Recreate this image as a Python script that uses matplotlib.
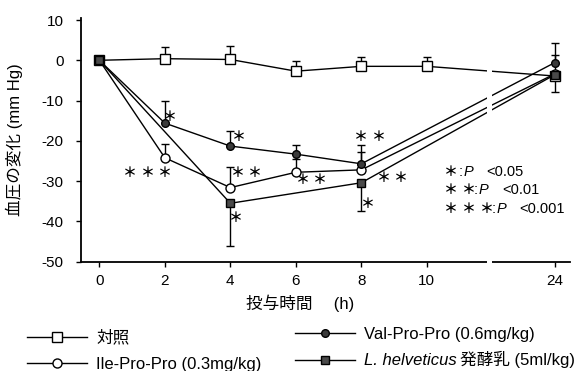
import matplotlib
matplotlib.use('Agg')
import matplotlib.pyplot as plt
from matplotlib.patches import Rectangle
from matplotlib.transforms import IdentityTransform, blended_transform_factory

plt.rcParams['font.family'] = ['Liberation Sans', 'Noto Sans CJK JP']

# ---- data ----
hours_ctrl = [0, 2, 4, 6, 8, 10, 24]
ctrl = [0, 0.4, 0.2, -2.7, -1.5, -1.5, -3.9]
ctrl_err_up = [0, 3.0, 3.3, 2.5, 2.2, 2.2, 5.2]

hours_val = [0, 2, 4, 6, 8, 24]
val = [0, -15.6, -21.3, -23.3, -25.7, -0.6]
val_err_up = [0, 5.5, 3.8, 2.3, 4.7, 5.0]

hours_ile = [0, 2, 4, 6, 8, 24]
ile = [0, -24.2, -31.6, -27.8, -27.2, -3.4]
ile_err_up = [0, 3.4, 5.2, 3.2, 4.5, 0]

hours_lh = [0, 4, 8, 24]
lh = [0, -35.5, -30.4, -3.6]
lh_err_down = [0, 10.6, 6.9, 4.2]

tick_hours = [0, 2, 4, 6, 8, 10, 24]
tick_labels = ['0', '2', '4', '6', '8', '10', '24']
ytick_vals = [10, 0, -10, -20, -30, -40, -50]
ytick_labels = ['10', '0', '-10', '-20', '-30', '-40', '-50']

labels = ['対照', 'Ile-Pro-Pro (0.3mg/kg)', 'Val-Pro-Pro (0.6mg/kg)', 'L. helveticus']
label_suffix = '発酵乳 (5ml/kg)'

# significance marks: (hour position of first star, value, number of stars)
sig_marks = [
    (2.16, -14.1, 1), (0.94, -27.9, 3),
    (4.27, -19.0, 1), (4.23, -28.0, 2), (4.17, -39.2, 1),
    (6.2, -29.7, 2),
    (7.99, -19.0, 2), (8.69, -29.3, 2), (8.21, -35.7, 1),
]
sig_legend = [(1, ':', '<0.05'), (2, ':', '<0.01'), (3, ':', '<0.001')]
STAR = '＊'

# ---- broken x axis mapping ----
POS24 = 13.9
def pos(hs):
    return [h if h <= 10 else POS24 for h in hs]

W, H = 583, 371
fig = plt.figure(figsize=(W / 100, H / 100), dpi=100)
ax = fig.add_axes([81 / W, 1 - 261.7 / H, (570 - 81) / W, (261.7 - 18) / H])
ax.set_xlim(-0.56, 14.37)
ax.set_ylim(-50, 10.5)

lw = 1.0
def eb(hs, ys, lo, up):
    idx = [i for i in range(len(hs)) if (lo[i] > 0 or up[i] > 0)]
    x = [pos(hs)[i] for i in idx]
    y = [ys[i] for i in idx]
    ax.errorbar(x, y, yerr=[[lo[i] for i in idx], [up[i] for i in idx]], fmt='none',
                ecolor='k', elinewidth=1.0, capsize=3.2, capthick=1.0, zorder=2)

zeros = lambda n: [0] * n
eb(hours_ctrl, ctrl, zeros(len(ctrl)), ctrl_err_up)
eb(hours_val, val, zeros(len(val)), val_err_up)
eb(hours_ile, ile, zeros(len(ile)), ile_err_up)
eb(hours_lh, lh, lh_err_down, zeros(len(lh)))

h_ctrl, = ax.plot(pos(hours_ctrl), ctrl, '-', color='k', lw=lw, marker='s', ms=6.5,
                  mfc='white', mec='k', mew=1.0, zorder=3)
h_ile, = ax.plot(pos(hours_ile), ile, '-', color='k', lw=lw, marker='o', ms=6.5,
                 mfc='white', mec='k', mew=1.0, zorder=4)
h_val, = ax.plot(pos(hours_val), val, '-', color='k', lw=lw, marker='o', ms=5.5,
                 mfc='#3a3a3a', mec='k', mew=1.0, zorder=5)
h_lh, = ax.plot(pos(hours_lh), lh, '-', color='k', lw=lw, marker='s', ms=5.5,
                mfc='#4a4a4a', mec='k', mew=1.0, zorder=6)

# break gap
trans = blended_transform_factory(ax.transData, ax.transAxes)
ax.add_patch(Rectangle((11.83, -0.03), 0.15, 1.06, transform=trans, facecolor='white',
                       edgecolor='none', zorder=10, clip_on=False))

for s in ['top', 'right']:
    ax.spines[s].set_visible(False)
for s in ['left', 'bottom']:
    ax.spines[s].set_linewidth(1.3)

ax.set_xticks(pos(tick_hours))
ax.set_xticklabels(tick_labels, fontsize=11)
ax.set_yticks(ytick_vals)
ax.set_yticklabels(ytick_labels, fontsize=11)
ax.tick_params(axis='y', direction='out', length=3.5, width=1.0, pad=9)
ax.tick_params(axis='x', direction='out', length=3.5, width=1.0, pad=5)

ax.set_xlabel('投与時間　 (h)', fontsize=12)
ax.xaxis.set_label_coords((300 - 81) / (570 - 81), -0.135)
ax.set_ylabel('血圧の変化 (mm Hg)', fontsize=12)
ax.yaxis.set_label_coords(-(81 - 23) / (570 - 81), 0.5)

STAR_GAP = 12.5  # points between star centres
STAR_FS = 10
for x, y, n in sig_marks:
    for k in range(n):
        ax.annotate(STAR, (x, y), xytext=(k * STAR_GAP, 0), textcoords='offset points',
                    ha='center', va='center', fontsize=STAR_FS, family='Noto Sans CJK JP',
                    fontweight='bold')

def ftext(px, py, s, **kw):
    fig.text(px / W, 1 - py / H, s, **kw)

rows_y = [172.3, 190.5, 209.3]
star_x0 = 450.5
colon_x = [459, 474, 492]
p_x = [464, 479, 497]
lt_x = [486, 502, 519]
for i, (n, co, val_t) in enumerate(sig_legend):
    for k in range(n):
        ftext(star_x0 + k * 18, rows_y[i], STAR, fontsize=STAR_FS, va='center', ha='center',
              family='Noto Sans CJK JP', fontweight='bold')
    ftext(colon_x[i], rows_y[i], co, fontsize=10.5, va='center')
    ftext(p_x[i], rows_y[i], 'P', fontsize=10.5, va='center', style='italic')
    ftext(lt_x[i], rows_y[i], val_t, fontsize=10.5, va='center')

leg1 = fig.legend([h_ctrl, h_ile], [labels[0], labels[1]], loc='upper left',
                  bbox_to_anchor=(27 / W, 1 - 330 / H), frameon=False, fontsize=12,
                  handlelength=3.6, handletextpad=0.55, labelspacing=0.68, borderpad=0,
                  borderaxespad=0)
leg2 = fig.legend([h_val, h_lh], [labels[2], labels[3]], loc='upper left',
                  bbox_to_anchor=(295 / W, 1 - 327 / H), frameon=False, fontsize=12,
                  handlelength=3.6, handletextpad=0.55, labelspacing=0.68, borderpad=0,
                  borderaxespad=0)
t_lh = leg2.get_texts()[1]
t_lh.set_style('italic')

fig.canvas.draw()
r = fig.canvas.get_renderer()
bb = t_lh.get_window_extent(r)
bx, by = t_lh.get_transform().transform(t_lh.get_position())
fig.text(bb.x1 + 3, by, label_suffix, transform=IdentityTransform(), fontsize=12,
         va='baseline', ha='left')

fig.savefig('out.png', dpi=100)
